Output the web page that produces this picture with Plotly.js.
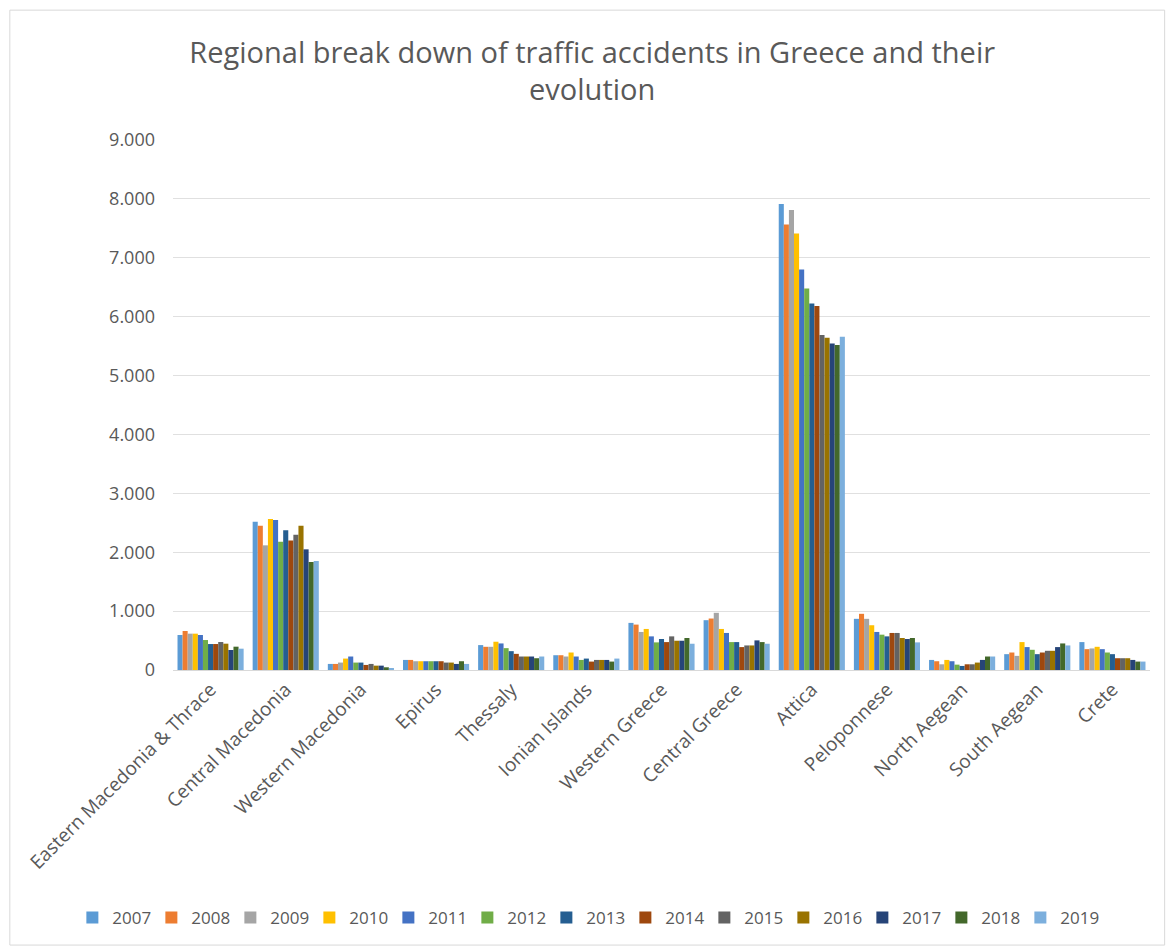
<!DOCTYPE html>
<html>
<head>
<meta charset="utf-8">
<script src="https://cdn.plot.ly/plotly-3.0.1.min.js"></script>
<style>
html,body{margin:0;padding:0;background:#fff;}
#chart{width:1175px;height:949px;}
</style>
</head>
<body>
<div id="chart"></div>
<script>
const regions = ["Eastern Macedonia & Thrace","Central Macedonia","Western Macedonia","Epirus","Thessaly","Ionian Islands","Western Greece","Central Greece","Attica","Peloponnese","North Aegean","South Aegean","Crete"];
const years = ["2007","2008","2009","2010","2011","2012","2013","2014","2015","2016","2017","2018","2019"];
const colors = ["#5B9BD5","#ED7D31","#A5A5A5","#FFC000","#4472C4","#70AD47","#255E91","#9E480E","#636363","#997300","#264478","#43682B","#7CAFDD"];

// values per region, one entry per year 2007..2019
const eastMacThrace = [594,662,617,617,594,509,441,441,475,447,340,396,362];
const centralMacedonia = [2518,2450,2117,2564,2547,2179,2371,2201,2298,2450,2049,1834,1851];
const westernMacedonia = [103,103,126,194,229,126,126,86,103,74,74,46,34];
const epirus = [171,171,149,149,149,149,149,149,126,126,103,149,103];
const thessaly = [423,394,394,480,451,371,320,274,229,229,229,200,229];
const ionianIslands = [251,251,229,297,229,171,194,143,171,171,171,143,194];
const westernGreece = [800,771,646,697,571,469,526,474,571,497,497,543,446];
const centralGreece = [846,874,971,697,629,474,474,389,417,417,503,474,446];
const attica = [7912,7567,7810,7414,6802,6480,6225,6180,5688,5642,5546,5518,5659];
const peloponnese = [869,954,869,760,646,600,571,629,629,543,526,543,469];
const northAegean = [171,149,97,171,149,91,69,97,97,126,171,229,229];
const southAegean = [269,297,240,474,389,343,269,297,326,326,389,451,417];
const crete = [474,354,366,394,354,297,269,200,200,200,171,143,143];

const byRegion = [eastMacThrace,centralMacedonia,westernMacedonia,epirus,thessaly,ionianIslands,westernGreece,centralGreece,attica,peloponnese,northAegean,southAegean,crete];

const traces = years.map((yr, i) => ({
  type: 'bar',
  name: yr,
  x: regions,
  y: byRegion.map(r => r[i]),
  marker: {color: colors[i]}
}));

const FONT = '"Open Sans", "Liberation Sans", Arial, sans-serif';

const layout = {
  width: 1175, height: 949,
  paper_bgcolor: '#fff', plot_bgcolor: '#fff',
  separators: ',.',
  font: {family: FONT, color: '#595959'},
  title: {
    text: 'Regional break down of traffic accidents in Greece and their<br>evolution',
    xref: 'container', yref: 'container',
    x: 0.504, xanchor: 'center', y: 0.934, yanchor: 'middle',
    font: {size: 29, color: '#595959', family: FONT}
  },
  margin: {l: 173, r: 25, t: 140, b: 279},
  barmode: 'group',
  bargap: 0.12,
  bargroupgap: 0,
  xaxis: {
    automargin: false,
    tickangle: -45,
    tickfont: {size: 19, color: '#595959', family: FONT},
    showline: true, linecolor: '#d9d9d9', linewidth: 1,
    ticks: '', showgrid: false
  },
  yaxis: {
    automargin: false,
    range: [0, 9000], dtick: 1000, tickformat: ',d',
    tickfont: {size: 18, color: '#595959', family: FONT},
    gridcolor: '#e0e0e0', gridwidth: 1,
    zeroline: false, showline: false, ticks: '',
    ticklabelstandoff: 17
  },
  legend: {
    orientation: 'h',
    x: -0.103, xanchor: 'left', y: -0.468, yanchor: 'middle',
    font: {size: 17, color: '#595959', family: FONT},
    entrywidth: 34, entrywidthmode: 'pixels',
    itemwidth: 30, tracegroupgap: 0
  },
  shapes: [{
    type: 'rect', xref: 'paper', yref: 'paper',
    x0: -0.167, x1: 1.015, y0: -0.519, y1: 1.245,
    line: {color: '#d9d9d9', width: 1}
  }]
};

Plotly.newPlot('chart', traces, layout, {displayModeBar: false, staticPlot: true});
</script>
</body>
</html>
